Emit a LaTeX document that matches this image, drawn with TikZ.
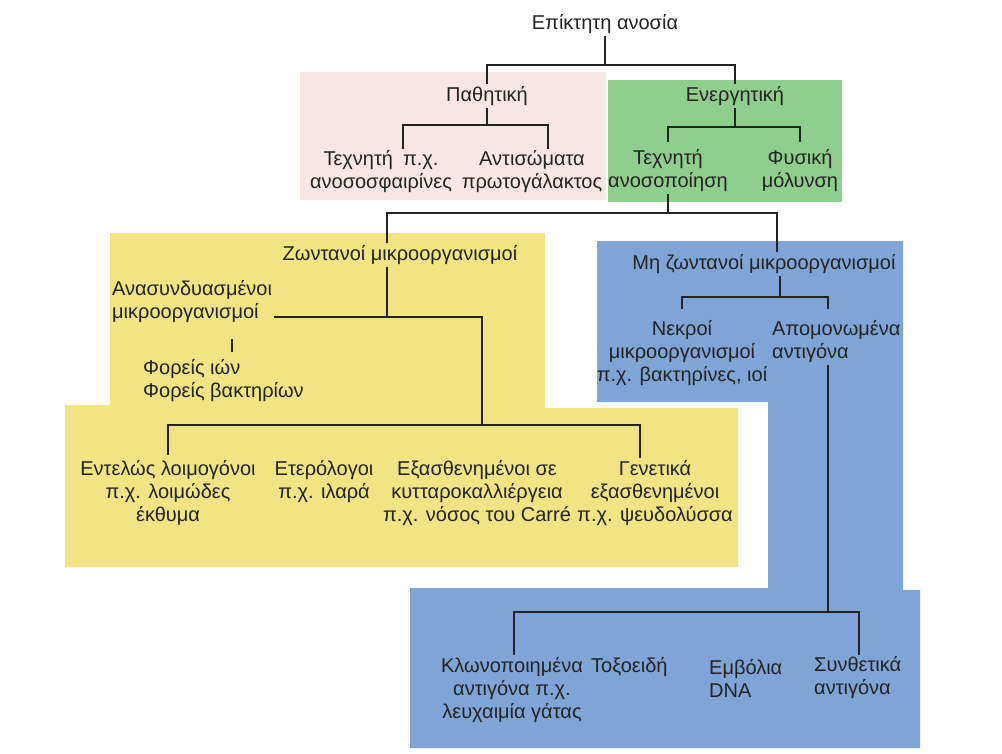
\documentclass[tikz,border=0pt]{standalone}
\usepackage{fontspec}
\setmainfont{Liberation Sans}
\usetikzlibrary{calc}
\definecolor{pinkbg}{RGB}{250,230,228}
\definecolor{greenbg}{RGB}{143,206,141}
\definecolor{yellowbg}{RGB}{240,228,132}
\definecolor{bluebg}{RGB}{126,165,214}
\definecolor{ln}{RGB}{35,35,35}
\definecolor{txt}{RGB}{35,35,35}
\begin{document}
\begin{tikzpicture}[x=1pt,y=-1pt,
  lbl/.style={font=\fontsize{20}{23}\selectfont, text=txt, inner sep=2pt, align=center},
  lbll/.style={lbl, align=left, anchor=west},
  conn/.style={draw=ln, line width=2.4pt}]
\useasboundingbox (0,0) rectangle (1002,753);
\fill[white] (0,0) rectangle (1002,753);
% background panels
\fill[pinkbg] (300,72) rectangle (606,200);
\fill[greenbg] (608,80) rectangle (842,202);
\fill[yellowbg] (110,233) -- (545,233) -- (545,408) -- (738,408) -- (738,567)
  -- (65,567) -- (65,405) -- (110,405) -- cycle;
\fill[bluebg] (597,241) -- (903,241) -- (903,590) -- (920,590) -- (920,748)
  -- (410,748) -- (410,588) -- (768,588) -- (768,402) -- (597,402) -- cycle;
% nodes
\node[lbl] (root) at (605,24) {Επίκτητη ανοσία};
\node[lbl] (pas) at (487,96) {Παθητική};
\node[lbl] (act) at (735,96) {Ενεργητική};
\node[lbl] (art) at (381,172) {Τεχνητή\hspace{10pt}π.χ.\\ανοσοσφαιρίνες};
\node[lbl] (ab) at (532,172) {Αντισώματα\\πρωτογάλακτος};
\node[lbl] (vac) at (668,171) {Τεχνητή\\ανοσοποίηση};
\node[lbl] (nat) at (800,171) {Φυσική\\μόλυνση};
\node[lbl] (live) at (400,255) {Ζωντανοί μικροοργανισμοί};
\node[lbll] (rec) at (110,302) {Ανασυνδυασμένοι\\μικροοργανισμοί};
\node[lbll] (vec) at (141,381) {Φορείς ιών\\Φορείς βακτηρίων};
\node[lbl] (dead) at (764,264) {Μη ζωντανοί μικροοργανισμοί};
\node[lbl] (kil) at (682,353) {Νεκροί\\μικροοργανισμοί\\π.χ. βακτηρίνες, ιοί};
\node[lbll] (iso) at (770,342) {Απομονωμένα\\αντιγόνα};
\node[lbl] (l1) at (168,493) {Εντελώς λοιμογόνοι\\π.χ. λοιμώδες\\έκθυμα};
\node[lbl] (l2) at (324,482) {Ετερόλογοι\\π.χ. ιλαρά};
\node[lbl] (l3) at (477,493) {Εξασθενημένοι σε\\κυτταροκαλλιέργεια\\π.χ. νόσος του Carré};
\node[lbl] (l4) at (655,493) {Γενετικά\\εξασθενημένοι\\π.χ. ψευδολύσσα};
\node[lbl] (b1) at (512,690) {Κλωνοποιημένα\\αντιγόνα π.χ.\\λευχαιμία γάτας};
\node[lbll] (b2) at (589,667) {Τοξοειδή};
\node[lbll] (b3) at (707,678) {Εμβόλια\\DNA};
\node[lbll] (b4) at (812,678) {Συνθετικά\\αντιγόνα};
% helper coordinates
\coordinate (jA) at (605,65);
\coordinate (jB) at (487,125);
\coordinate (jC) at (735,127);
\coordinate (jD) at (668,213);
\coordinate (jE) at (387,317);
\coordinate (jF) at (482,425);
\coordinate (jG) at (780,297);
\coordinate (jH) at (828,612);
\coordinate (yB) at (0,142);
\coordinate (yD) at (0,246);
\coordinate (yF) at (0,455);
\coordinate (yG) at (0,309);
\coordinate (yH) at (0,644);
\coordinate (xR) at (232,0);
% connectors
\draw[conn] (root.south) -- (jA);
\draw[conn] (pas.north) |- (jA) -| (act.north);
\draw[conn] (pas.south) -- (jB);
\draw[conn] ($(art.north)+(22,0)$ |- yB) |- (jB) -| ($(ab.north)+(16,0)$ |- yB);
\draw[conn] (act.south) -- (jC);
\draw[conn] (vac.north |- yB) |- (jC) -| (nat.north |- yB);
\draw[conn] (vac.south) -- (jD);
\draw[conn] ($(live.north)+(-13,0)$ |- yD) |- (jD) -| ($(dead.north)+(13,0)$ |- yD);
\draw[conn] ($(live.south)+(-13,0)$) -- (jE);
\draw[conn] (rec.east |- jE) -| (jF);
\draw[conn] (l1.north |- yF) |- (jF) -| ($(l4.north)+(-15,0)$ |- yF);
\draw[conn] ($(l2.north)+(8,0)$ |- yF) -- ($(l2.north)+(8,0)$ |- jF);
\draw[conn] ($(l3.north)+(18,0)$ |- yF) -- ($(l3.north)+(18,0)$ |- jF);
\draw[conn, shorten <=14pt, shorten >=6pt] (xR |- rec.south) -- (xR |- vec.north);
\draw[conn] ($(dead.south)+(16,0)$) -- (jG);
\draw[conn] (kil.north |- yG) |- (jG) -| (jH |- yG);
\draw[conn] (jH |- iso.south) -- (jH);
\draw[conn] ($(b1.north)+(2,0)$ |- yH) |- (jH) -| ($(b4.north)+(1,0)$ |- yH);
\draw[conn] ($(b2.north)+(-6,0)$ |- yH) -- ($(b2.north)+(-6,0)$ |- jH);
\draw[conn] ($(b3.north)+(2,0)$ |- yH) -- ($(b3.north)+(2,0)$ |- jH);
\end{tikzpicture}
\end{document}
